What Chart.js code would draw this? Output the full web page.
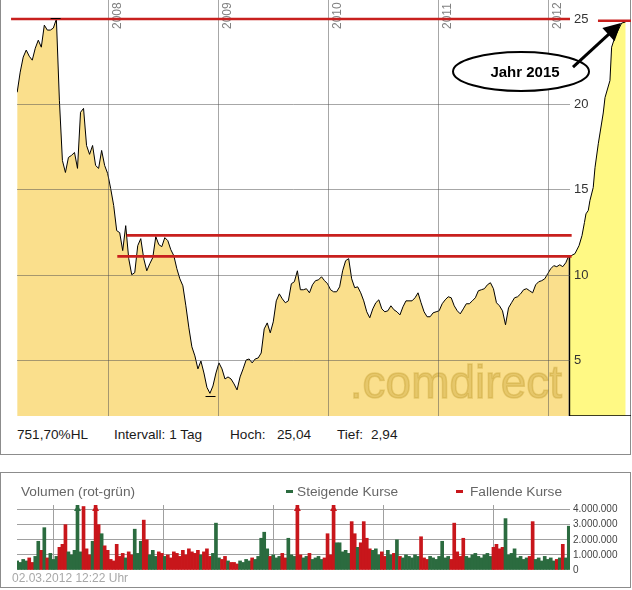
<!DOCTYPE html>
<html>
<head>
<meta charset="utf-8">
<script src="https://cdn.jsdelivr.net/npm/chart.js@4.4.1/dist/chart.umd.min.js"></script>
<style>
  body { margin:0; background:#fff; width:632px; height:590px; position:relative; overflow:hidden;
         font-family:"Liberation Sans", Arial, sans-serif; }
  .panel { position:absolute; border:1px solid #8c8c8c; box-sizing:border-box; }
  #p1 { left:0; top:-1px; width:631px; height:456px; }
  #p2 { left:0; top:472px; width:631px; height:116px; }
  canvas { position:absolute; left:0; }
  #kurs { top:0; }
  #vol { top:498px; }
  .txt { position:absolute; white-space:nowrap; line-height:16px; }
  .info { top:427px; font-size:13.6px; color:#1a1a1a; }
  .grau { top:484px; font-size:13.7px; color:#666; }
  .strich { position:absolute; top:490px; width:7px; height:3px; }
</style>
</head>
<body>
<div class="panel" id="p1"></div>
<div class="panel" id="p2"></div>
<canvas id="kurs" width="631" height="416"></canvas>
<canvas id="vol" width="631" height="78"></canvas>

<div class="txt info" style="left:17px">751,70%HL</div>
<div class="txt info" style="left:114px">Intervall: 1 Tag</div>
<div class="txt info" style="left:230px">Hoch:</div>
<div class="txt info" style="left:277px">25,04</div>
<div class="txt info" style="left:337px">Tief:</div>
<div class="txt info" style="left:371px">2,94</div>

<div class="txt grau" style="left:21px">Volumen (rot-grün)</div>
<div class="strich" style="left:286px;background:#2B6B3F"></div>
<div class="txt grau" style="left:297px">Steigende Kurse</div>
<div class="strich" style="left:456px;background:#C8161B"></div>
<div class="txt grau" style="left:470px">Fallende Kurse</div>
<div class="txt" style="left:12px;top:571px;font-size:12px;line-height:15px;color:#a8a8a8">02.03.2012 12:22 Uhr</div>

<script>
// Kurse ab 05.03.2007, etwa alle 10 Tage
const startDatum = '2007-03-05';
const schrittTage = 10;
const kurse = [
  20.71, 21.89, 22.77, 23.18, 22.82, 22.59, 23.29, 23.76, 23.35, 24.64,
  24.35, 24.35, 24.47, 25.00, 20.24, 16.72, 16.02, 16.90, 17.02, 17.19,
  16.26, 19.54, 19.77, 17.60, 17.08, 17.60, 16.43, 16.26, 17.31, 16.43,
  15.96, 15.08, 14.09, 12.62, 12.50, 11.45, 12.91, 10.98, 10.04, 10.16,
  11.74, 12.15, 10.98, 10.27, 10.68, 11.04, 12.27, 11.80, 11.68, 12.21,
  12.03, 11.50, 11.15, 10.39, 9.80, 9.39, 8.22, 6.93, 5.82, 5.29,
  4.53, 4.99, 4.29, 3.45, 3.10, 3.53, 4.29, 4.88, 4.53, 3.94,
  4.06, 3.94, 3.65, 3.30, 4.06, 4.53, 5.05, 5.11, 4.88, 5.11,
  5.17, 5.46, 6.87, 7.22, 6.64, 7.28, 8.51, 8.92, 8.63, 8.40,
  8.51, 9.51, 9.63, 10.27, 9.16, 9.16, 9.22, 8.98, 9.45, 9.69,
  9.74, 9.92, 9.69, 9.51, 9.16, 9.04, 9.04, 9.33, 10.27, 10.86,
  10.98, 9.80, 9.28, 9.33, 8.98, 8.51, 7.87, 7.52, 8.04, 8.40,
  8.57, 8.04, 7.87, 7.93, 8.22, 7.99, 7.87, 7.69, 8.16, 8.51,
  8.51, 8.51, 8.69, 8.98, 8.40, 7.87, 7.58, 7.58, 7.81, 7.87,
  7.93, 8.34, 8.57, 8.75, 8.69, 8.22, 7.93, 7.75, 8.04, 8.34,
  8.34, 8.51, 8.69, 9.10, 9.16, 9.22, 9.45, 9.57, 9.22, 8.40,
  8.22, 7.93, 7.11, 8.10, 8.40, 8.69, 8.75, 8.92, 9.16, 9.22,
  9.10, 8.98, 9.45, 9.63, 9.69, 9.80, 10.10, 10.39, 10.57, 10.51,
  10.62, 10.51, 10.74, 11.15
];
// Volumen in Mio. Stück (Werte über 4,3 Mio. werden oben mit Pfeil abgeschnitten)
const volumenMio = [
  0.6, 0.5, 0.7, 0.6, 0.8, 0.5, 0.9, 1.9, 1.3, 2.8,
  0.8, 1.1, 0.7, 0.9, 1.5, 1.7, 3.0, 1.2, 1.0, 1.3,
  4.8, 1.2, 4.2, 1.4, 1.0, 1.9, 5.0, 3.0, 2.4, 1.6,
  1.3, 0.7, 0.6, 1.7, 0.9, 1.1, 0.8, 1.2, 1.0, 2.7,
  1.1, 1.9, 3.3, 2.0, 1.0, 1.3, 0.9, 1.2, 1.1, 0.9,
  1.0, 0.8, 1.2, 1.1, 0.9, 1.3, 1.0, 1.4, 1.2, 1.1,
  1.3, 1.0, 1.2, 1.4, 0.9, 1.1, 3.1, 0.8, 0.7, 0.9,
  0.6, 0.5, 0.5, 0.4, 0.6, 0.5, 0.7, 0.6, 0.8, 0.7,
  0.9, 2.1, 2.5, 1.4, 0.9, 1.0, 0.8, 0.9, 1.1, 0.8,
  2.1, 1.0, 0.9, 5.0, 1.0, 0.8, 0.9, 1.1, 0.7, 0.8,
  0.9, 0.7, 0.8, 2.4, 1.0, 5.0, 1.8, 1.8, 1.2, 1.3,
  1.1, 3.2, 2.4, 1.5, 1.8, 3.2, 2.1, 1.4, 1.3, 1.4,
  1.0, 1.2, 0.9, 1.3, 1.0, 1.1, 2.0, 0.9, 0.8, 1.0,
  0.9, 0.8, 1.0, 0.9, 2.2, 0.8, 0.7, 0.9, 0.8, 0.7,
  0.9, 1.9, 0.8, 0.9, 0.7, 3.1, 1.2, 0.9, 2.1, 0.9,
  0.8, 1.0, 1.1, 0.9, 0.8, 1.0, 1.1, 0.9, 1.5, 1.7,
  1.4, 1.5, 3.4, 1.0, 1.1, 1.4, 0.8, 0.9, 0.7, 0.8,
  0.9, 3.2, 0.7, 0.8, 0.6, 0.9, 0.7, 0.8, 0.6, 0.7,
  0.8, 1.7, 0.8, 2.9
];
// Farbe wo das Bild von der Kursrichtung abweicht (s = steigend, f = fallend)
const richtungAbweichung = { 20: 's', 22: 'f', 93: 'f', 126: 's', 148: 'f', 162: 's' };

const jahre = [2008, 2009, 2010, 2011, 2012];
const kursTicks = [5, 10, 15, 20, 25];
const volumenTicks = [0, 1000000, 2000000, 3000000, 4000000];

// handgemalte Prognose "Jahr 2015" rechts in der Achse
const prognoseJahr = [2012.189, 2012.239, 2012.276, 2012.303, 2012.325, 2012.339, 2012.360, 2012.375, 2012.405, 2012.421,
                      2012.451, 2012.496, 2012.512, 2012.557, 2012.572, 2012.602, 2012.632, 2012.663, 2012.698];
const prognoseKurs = [11.10, 11.27, 11.74, 12.33, 13.09, 13.60, 13.80, 14.38, 15.14, 16.30,
                      17.70, 19.50, 20.40, 21.40, 23.35, 23.94, 24.35, 24.76, 24.82];

// rote Linien (Kurs, von, bis)
const linienKurs = [25, 24.9, 12.34, 11.11];
const linienVon = [2007.117, 2012.448, 2008.167, 2008.082];
const linienBis = [2012.194, 2012.748, 2012.209, 2012.209];

const hochJahr = 2007.522, hochKurs = 25.04;
const tiefJahr = 2008.929, tiefKurs = 2.94;
const notizJahr = 2011.749, notizKurs = 21.93;
const pfeilJahr = [2012.221, 2012.657], pfeilKurs = [22.18, 24.76];

const xMin = 2007.171, xMax = 2012.194;

Chart.defaults.font.family = '"Liberation Sans", Arial, sans-serif';

function dezimalJahr(d) {
  const j = d.getUTCFullYear();
  const a = Date.UTC(j, 0, 1), b = Date.UTC(j + 1, 0, 1);
  return j + (d.getTime() - a) / (b - a);
}
const start = Date.parse(startDatum);
const xJahre = kurse.map((_, i) => dezimalJahr(new Date(start + i * schrittTage * 86400000)));

const gitter = 'rgba(80,80,80,0.5)';

const kursPlugin = {
  id: 'kursExtras',
  afterDatasetsDraw(chart) {
    const { ctx, chartArea, scales: { x, y } } = chart;
    ctx.save();
    // Wasserzeichen
    ctx.font = '46px "Liberation Sans", Arial';
    ctx.fillStyle = 'rgba(185,145,30,0.3)';
    ctx.strokeStyle = 'rgba(185,145,30,0.3)';
    ctx.lineWidth = 1.5;
    ctx.textAlign = 'right';
    ctx.fillText('.comdirect', chartArea.right - 8, chartArea.bottom - 18);
    ctx.strokeText('.comdirect', chartArea.right - 8, chartArea.bottom - 18);
    // Prognosefläche
    const px = prognoseJahr.map(j => x.getPixelForValue(j));
    const py = prognoseKurs.map(k => y.getPixelForValue(k));
    const unten = chartArea.bottom;
    ctx.beginPath();
    ctx.moveTo(px[0], unten);
    px.forEach((v, i) => ctx.lineTo(v, py[i]));
    ctx.lineTo(px[px.length - 1], unten);
    ctx.closePath();
    ctx.fillStyle = '#FFF984';
    ctx.fill();
    ctx.beginPath();
    px.forEach((v, i) => i ? ctx.lineTo(v, py[i]) : ctx.moveTo(v, py[i]));
    ctx.strokeStyle = '#000';
    ctx.lineWidth = 1;
    ctx.stroke();
    ctx.beginPath();
    ctx.moveTo(px[0], py[0]);
    ctx.lineTo(px[0], unten);
    ctx.lineTo(chart.width, unten);
    ctx.lineWidth = 1.5;
    ctx.stroke();
    ctx.restore();
  },
  afterDraw(chart) {
    const { ctx, scales: { x, y } } = chart;
    ctx.save();
    // Jahreszahlen senkrecht
    ctx.font = '12px "Liberation Sans", Arial';
    ctx.fillStyle = '#808080';
    ctx.textBaseline = 'top';
    jahre.forEach(j => {
      ctx.save();
      ctx.translate(x.getPixelForValue(j) + 3, 29);
      ctx.rotate(-Math.PI / 2);
      ctx.fillText(String(j), 0, 0);
      ctx.restore();
    });
    // rote Linien
    ctx.strokeStyle = '#C8201E';
    ctx.lineWidth = 2.6;
    linienKurs.forEach((k, i) => {
      const yy = y.getPixelForValue(k);
      ctx.beginPath();
      ctx.moveTo(x.getPixelForValue(linienVon[i]), yy);
      ctx.lineTo(x.getPixelForValue(linienBis[i]), yy);
      ctx.stroke();
    });
    // Hoch / Tief
    ctx.strokeStyle = '#000';
    ctx.lineWidth = 1;
    [[hochJahr, hochKurs], [tiefJahr, tiefKurs]].forEach(([j, k]) => {
      const xx = x.getPixelForValue(j), yy = Math.round(y.getPixelForValue(k)) + 0.5;
      ctx.beginPath();
      ctx.moveTo(xx - 5, yy);
      ctx.lineTo(xx + 5, yy);
      ctx.stroke();
    });
    // Ellipse mit Text
    const ex = x.getPixelForValue(notizJahr), ey = y.getPixelForValue(notizKurs);
    ctx.beginPath();
    ctx.ellipse(ex, ey, 68, 19.5, 0, 0, Math.PI * 2);
    ctx.fillStyle = '#fff';
    ctx.fill();
    ctx.lineWidth = 2;
    ctx.strokeStyle = '#000';
    ctx.stroke();
    ctx.fillStyle = '#000';
    ctx.font = 'bold 15px "Liberation Sans", Arial';
    ctx.textAlign = 'center';
    ctx.textBaseline = 'middle';
    ctx.fillText('Jahr 2015', ex + 4, ey + 1);
    // Pfeil
    const ax = x.getPixelForValue(pfeilJahr[0]), ay = y.getPixelForValue(pfeilKurs[0]);
    const bx = x.getPixelForValue(pfeilJahr[1]), by = y.getPixelForValue(pfeilKurs[1]);
    const len = Math.hypot(bx - ax, by - ay), ux = (bx - ax) / len, uy = (by - ay) / len;
    ctx.lineWidth = 3;
    ctx.beginPath();
    ctx.moveTo(ax, ay);
    ctx.lineTo(bx - ux * 12, by - uy * 12);
    ctx.stroke();
    ctx.beginPath();
    ctx.moveTo(bx, by);
    ctx.lineTo(bx - ux * 17 - uy * 9, by - uy * 17 + ux * 9);
    ctx.lineTo(bx - ux * 17 + uy * 9, by - uy * 17 - ux * 9);
    ctx.closePath();
    ctx.fill();
    ctx.restore();
  }
};

new Chart(document.getElementById('kurs'), {
  type: 'line',
  data: {
    datasets: [{
      data: xJahre.map((j, i) => ({ x: j, y: kurse[i] })),
      borderColor: '#000',
      borderWidth: 1,
      backgroundColor: '#FADF8C',
      fill: 'start',
      pointRadius: 0,
      tension: 0
    }]
  },
  options: {
    responsive: false,
    animation: false,
    layout: { autoPadding: false, padding: { left: 17, top: 0, right: 0, bottom: 0 } },
    plugins: { legend: { display: false }, tooltip: { enabled: false } },
    scales: {
      x: {
        type: 'linear', min: xMin, max: xMax,
        afterBuildTicks: s => { s.ticks = jahre.map(v => ({ value: v })); },
        ticks: { display: false, z: 1 },
        grid: { color: gitter, drawTicks: false, z: 1 },
        border: { color: '#A89B70', z: 1 }
      },
      y: {
        position: 'right', min: 1.774, max: 26.11,
        afterBuildTicks: s => { s.ticks = kursTicks.map(v => ({ value: v })); },
        afterFit: s => { s.width = 61; s.paddingTop = 0; s.paddingBottom = 0; },
        ticks: { padding: 4, color: '#333', font: { size: 13 }, z: 1 },
        grid: { color: gitter, drawTicks: false, z: 1 },
        border: { display: false, z: 1 }
      }
    }
  },
  plugins: [kursPlugin]
});

const steigend = '#2B6B3F', fallend = '#C8161B';
const farben = kurse.map((k, i) => {
  const r = richtungAbweichung[i] || (i === 0 || k >= kurse[i - 1] ? 's' : 'f');
  return r === 's' ? steigend : fallend;
});

const pfeilPlugin = {
  id: 'volPfeile',
  afterDatasetsDraw(chart) {
    const { ctx, chartArea, scales: { y } } = chart;
    const meta = chart.getDatasetMeta(0);
    ctx.save();
    meta.data.forEach((bar, i) => {
      if (volumenMio[i] * 1e6 > y.max) {
        ctx.fillStyle = farben[i];
        ctx.beginPath();
        ctx.moveTo(bar.x - 3.5, chartArea.top + 6);
        ctx.lineTo(bar.x + 3.5, chartArea.top + 6);
        ctx.lineTo(bar.x, chartArea.top);
        ctx.closePath();
        ctx.fill();
      }
    });
    ctx.restore();
  }
};

new Chart(document.getElementById('vol'), {
  type: 'bar',
  data: {
    datasets: [{
      data: xJahre.map((j, i) => ({ x: j, y: volumenMio[i] * 1e6 })),
      backgroundColor: farben,
      barPercentage: 1,
      categoryPercentage: 1,
      grouped: false
    }]
  },
  options: {
    responsive: false,
    animation: false,
    layout: { autoPadding: false, padding: { left: 17, top: 7, right: 0, bottom: 6 } },
    plugins: { legend: { display: false }, tooltip: { enabled: false } },
    scales: {
      x: {
        type: 'linear', min: xMin, max: xMax, offset: false,
        afterBuildTicks: s => { s.ticks = jahre.map(v => ({ value: v })); },
        ticks: { display: false },
        grid: { color: '#a0a0a0', drawTicks: false },
        border: { display: false }
      },
      y: {
        position: 'right', min: 0, max: 4300000,
        afterBuildTicks: s => { s.ticks = volumenTicks.map(v => ({ value: v })); },
        afterFit: s => { s.width = 61; s.paddingTop = 0; s.paddingBottom = 0; },
        ticks: {
          padding: 3, color: '#444', font: { size: 10 },
          callback: v => String(v).replace(/\B(?=(\d{3})+(?!\d))/g, '.')
        },
        grid: { color: c => c.tick.value === 0 ? 'rgba(0,0,0,0)' : '#a0a0a0', drawTicks: false },
        border: { display: false }
      }
    }
  },
  plugins: [pfeilPlugin]
});
</script>
</body>
</html>
